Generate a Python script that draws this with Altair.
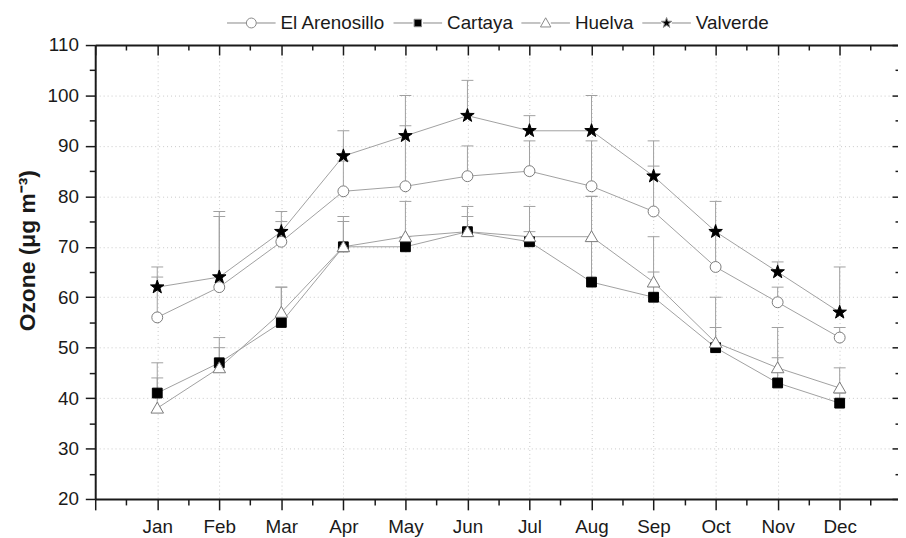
import json
import altair as alt
import pandas as pd

months = ["Jan", "Feb", "Mar", "Apr", "May", "Jun", "Jul", "Aug", "Sep", "Oct", "Nov", "Dec"]
sites = ["El Arenosillo", "Cartaya", "Huelva", "Valverde"]

arenosillo = [56, 62, 71, 81, 82, 84, 85, 82, 77, 66, 59, 52]
arenosillo_upper = [64, 76, 75, 87, 94, 90, 91, 91, 86, 73, 62, 54]
cartaya = [41, 47, 55, 70, 70, 73, 71, 63, 60, 50, 43, 39]
cartaya_upper = [44, 50, 62, 75, 72, 76, 73, 80, 65, 54, 48, 41]
huelva = [38, 46, 57, 70, 72, 73, 72, 72, 63, 51, 46, 42]
huelva_upper = [47, 52, 62, 76, 79, 78, 78, 80, 72, 60, 54, 46]
valverde = [62, 64, 73, 88, 92, 96, 93, 93, 84, 73, 65, 57]
valverde_upper = [66, 77, 77, 93, 100, 103, 96, 100, 91, 79, 67, 66]

y_major = [20, 30, 40, 50, 60, 70, 80, 90, 100, 110]
y_minor = [25, 35, 45, 55, 65, 75, 85, 95, 105]
x_major = list(range(0, 13))
x_minor = [i + 0.5 for i in range(0, 13)]

rows = []
for site, vals, ups in zip(sites, [arenosillo, cartaya, huelva, valverde],
                           [arenosillo_upper, cartaya_upper, huelva_upper, valverde_upper]):
    for i, (m, v, u) in enumerate(zip(months, vals, ups)):
        rows.append({"site": site, "month": m, "idx": i + 1, "ozone": v, "upper": u})
df = pd.DataFrame(rows)

FONT = "Liberation Sans"
DARK = "#1a1a1a"
GRAY = "#a0a0a0"

circle_p = "M1,0A1,1,0,1,1,-1,0A1,1,0,1,1,1,0Z"
square_p = "M-0.9,-0.9H0.9V0.9H-0.9Z"
tri_p = "M0,-1.1L1.15,0.9L-1.15,0.9Z"
star_p = ("M0,-1.3L0.306,-0.42L1.236,-0.402L0.494,0.16L0.764,1.052L0,0.52"
          "L-0.764,1.052L-0.494,0.16L-1.236,-0.402L-0.306,-0.42Z")

stub = "M-4.9,0H-1.05M1.05,0H4.9"
leg_circle = stub + "M1,0A1,1,0,1,1,-1,0A1,1,0,1,1,1,0Z"
leg_square = stub + "M-0.75,-0.75H0.75V0.75H-0.75Z"
leg_tri = stub + "M0,-1.05L1.05,0.8L-1.05,0.8Z"
leg_star = stub + ("M0,-1.1L0.26,-0.36L1.05,-0.34L0.42,0.14L0.65,0.89L0,0.44"
                   "L-0.65,0.89L-0.42,0.14L-1.05,-0.34L-0.26,-0.36Z")

xscale = alt.Scale(domain=[0, 12.94], nice=False, zero=False)
yscale = alt.Scale(domain=[20, 110], nice=False, zero=False)
label_expr = json.dumps([""] + months) + "[datum.value] || ''"

base = alt.Chart(df)

lines = base.mark_line(color=GRAY, strokeWidth=1).encode(
    x=alt.X("idx:Q", scale=xscale,
            axis=alt.Axis(orient="bottom", values=x_major, labelExpr=label_expr,
                          tickSize=11, labelPadding=8, title=None, grid=True,
                          gridDash=[1, 3], gridColor="#c8c8c8", domain=True)),
    y=alt.Y("ozone:Q", scale=yscale,
            axis=alt.Axis(orient="left", values=y_major, tickSize=10, labelPadding=7,
                          grid=True, gridDash=[1, 3], gridColor="#c8c8c8",
                          title="Ozone (μg m⁻³)", titleFontWeight="bold",
                          titleFontSize=23, titleX=-68, titleY=207,
                          titleBaseline="middle", titleAlign="center", domain=True)),
    detail="site:N",
)

rules = base.mark_rule(color=GRAY, strokeWidth=1).encode(
    x=alt.X("idx:Q", scale=xscale,
            axis=alt.Axis(orient="bottom", values=x_minor, tickSize=6, labels=False,
                          domain=False, grid=False, title=None)),
    y=alt.Y("ozone:Q", scale=yscale,
            axis=alt.Axis(orient="left", values=y_minor, tickSize=6, labels=False,
                          domain=False, grid=False, title=None)),
    y2="upper:Q",
)

caps = base.mark_tick(orient="horizontal", size=12, thickness=1, color=GRAY, opacity=1).encode(
    x=alt.X("idx:Q", scale=xscale,
            axis=alt.Axis(orient="top", values=x_major, tickSize=10, labels=False,
                          domain=False, grid=False, title=None, offset=-10)),
    y=alt.Y("upper:Q", scale=yscale,
            axis=alt.Axis(orient="right", values=y_major, tickSize=6, labels=False,
                          domain=False, grid=False, title=None, offset=-6)),
)

points = base.mark_point(filled=True, opacity=1, size=121, strokeWidth=1).encode(
    x=alt.X("idx:Q", scale=xscale,
            axis=alt.Axis(orient="top", values=x_minor, tickSize=5, labels=False,
                          domain=False, grid=False, title=None, offset=-5)),
    y=alt.Y("ozone:Q", scale=yscale,
            axis=alt.Axis(orient="right", values=y_minor, tickSize=3, labels=False,
                          domain=False, grid=False, title=None, offset=-3)),
    shape=alt.Shape("site:N", scale=alt.Scale(domain=sites, range=[circle_p, square_p, tri_p, star_p]),
                    legend=None),
    fill=alt.Fill("site:N", scale=alt.Scale(domain=sites, range=["white", "black", "white", "black"]),
                  legend=None),
    stroke=alt.Stroke("site:N", scale=alt.Scale(domain=sites, range=["#7a7a7a", "black", "#7a7a7a", "black"]),
                      legend=None),
)

legend_layer = base.transform_calculate(legsite="datum.site").mark_point(
    filled=True, opacity=0, size=100, strokeWidth=1
).encode(
    x=alt.X("idx:Q", scale=xscale,
            axis=alt.Axis(orient="top", values=[0], ticks=False, labels=False,
                          domain=True, grid=False, title=None)),
    y=alt.Y("ozone:Q", scale=yscale, axis=None),
    shape=alt.Shape("legsite:N", scale=alt.Scale(domain=sites, range=[leg_circle, leg_square, leg_tri, leg_star]),
                    legend=alt.Legend(title=None)),
    fill=alt.Fill("legsite:N", scale=alt.Scale(domain=sites, range=["white", "black", "white", "black"]),
                  legend=alt.Legend(title=None)),
    stroke=alt.Stroke("legsite:N", scale=alt.Scale(domain=sites, range=["#888888"] * 4),
                      legend=alt.Legend(title=None)),
)

chart = alt.layer(lines, rules, caps, points, legend_layer).resolve_axis(
    x="independent", y="independent"
).resolve_scale(
    shape="independent", fill="independent", stroke="independent"
).properties(
    width=810, height=458,
    autosize=alt.AutoSizeParams(type="none"),
    padding={"left": 88, "top": 35, "right": 0, "bottom": 37},
).configure_view(stroke=None).configure_axis(
    labelFont=FONT, labelFontSize=19, labelColor=DARK, titleFont=FONT, titleColor=DARK,
    domainColor=DARK, domainWidth=2, tickColor=DARK, tickWidth=1.5,
).configure_legend(
    orient="none", legendX=148, legendY=-32, direction="horizontal",
    symbolSize=100, symbolStrokeWidth=1, symbolOpacity=1,
    labelFont=FONT, labelFontSize=19, labelColor=DARK,
    labelOffset=20, columnPadding=6, padding=0,
)

chart.save("out.html", embed_options={"renderer": "svg", "actions": False})
